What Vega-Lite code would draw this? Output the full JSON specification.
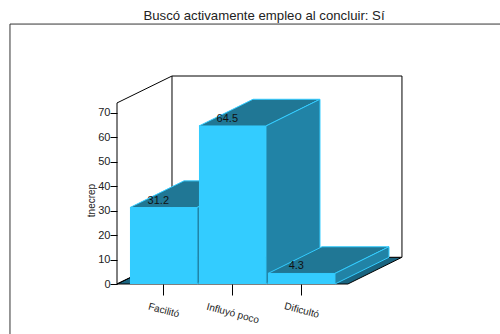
{"$schema":"https://vega.github.io/schema/vega-lite/v6.json","width":294,"height":208,"autosize":"none","padding":{"left":117,"top":76,"right":89,"bottom":50},"background":"white","view":{"stroke":null},"config":{"font":"Liberation Sans"},"title":{"text":"Buscó activamente empleo al concluir: Sí","anchor":"middle","frame":"group","offset":0,"fontSize":13.2,"fontWeight":"normal","font":"Liberation Sans","color":"#222222"},"datasets":{"bars":[{"category":"Facilitó","center":1,"x":0.517,"x2":1.488,"y":31.2},{"category":"Influyó poco","center":2,"x":1.517,"x2":2.488,"y":64.5},{"category":"Dificultó","center":3,"x":2.517,"x2":3.488,"y":4.3}],"room":[{"face":"floor","part":"floor","x":0.329,"y":0,"y2":0},{"face":"floor","part":"floor","x":1.126,"y":10.9,"y2":0},{"face":"floor","part":"floor","x":3.675,"y":10.9,"y2":0},{"face":"floor","part":"floor","x":4.459,"y":10.9,"y2":10.9},{"face":"wall","part":"wall","x":1.126,"y":84.9,"y2":10.9},{"face":"wall","part":"wall","x":4.459,"y":84.9,"y2":10.9}],"depth":[{"face":"t1","part":"top","x":0.517,"y":31.2,"y2":31.2},{"face":"t1","part":"top","x":1.3,"y":42.1,"y2":31.2},{"face":"t1","part":"top","x":1.488,"y":42.1,"y2":31.2},{"face":"t1","part":"top","x":2.271,"y":42.1,"y2":42.1},{"face":"s1","part":"side","x":1.488,"y":31.2,"y2":0},{"face":"s1","part":"side","x":2.271,"y":42.1,"y2":10.9},{"face":"t2","part":"top","x":1.517,"y":64.5,"y2":64.5},{"face":"t2","part":"top","x":2.3,"y":75.4,"y2":64.5},{"face":"t2","part":"top","x":2.488,"y":75.4,"y2":64.5},{"face":"t2","part":"top","x":3.271,"y":75.4,"y2":75.4},{"face":"s2","part":"side","x":2.488,"y":64.5,"y2":0},{"face":"s2","part":"side","x":3.271,"y":75.4,"y2":10.9},{"face":"t3","part":"top","x":2.517,"y":4.3,"y2":4.3},{"face":"t3","part":"top","x":3.3,"y":15.2,"y2":4.3},{"face":"t3","part":"top","x":3.488,"y":15.2,"y2":4.3},{"face":"t3","part":"top","x":4.271,"y":15.2,"y2":15.2},{"face":"s3","part":"side","x":3.488,"y":4.3,"y2":0},{"face":"s3","part":"side","x":4.271,"y":15.2,"y2":10.9}],"edges":[{"edge":"axis","x":0.329,"y":0},{"edge":"axis","x":0.329,"y":73.9},{"edge":"axis","x":1.126,"y":84.9},{"edge":"floor-left","x":0.329,"y":0},{"edge":"floor-left","x":1.126,"y":10.9}],"frame":[{"x":-1.222,"x2":6.1,"y":106.1,"y2":-26}]},"encoding":{"x":{"field":"x","type":"quantitative","scale":{"domain":[0.329,4.59],"nice":false,"zero":false},"axis":{"title":null,"values":[1,2,3],"domain":false,"grid":false,"tickSize":11,"tickColor":"#000000","labelExpr":"datum.value==1?'Facilitó':datum.value==2?'Influyó poco':'Dificultó'","labelAngle":15,"labelAlign":"center","labelBaseline":"middle","labelPadding":{"condition":{"test":"datum.value==2","value":18},"value":15},"labelFontSize":10,"labelColor":"#222222","labelFont":"Liberation Sans","labelOverlap":false,"labelBound":false,"labelFlush":false}},"y":{"field":"y","type":"quantitative","stack":null,"scale":{"domain":[0,84.9],"nice":false,"zero":false},"axis":{"title":"tnecrep","titleFontSize":10,"titleFontWeight":"normal","titleColor":"#222222","titleFont":"Liberation Sans","titleX":-21,"titleY":124,"values":[0,10,20,30,40,50,60,70],"domain":false,"grid":false,"tickSize":7,"tickColor":"#000000","labelPadding":0,"labelFontSize":11,"labelColor":"#222222","labelFont":"Liberation Sans"}}},"layer":[{"data":{"name":"frame"},"mark":{"type":"rect","fill":null,"fillOpacity":0,"stroke":"#333333","strokeWidth":1,"clip":false},"encoding":{"x2":{"field":"x2"},"y2":{"field":"y2"}}},{"data":{"name":"room"},"mark":{"type":"area","stroke":"#000000","strokeWidth":1,"clip":false},"encoding":{"y2":{"field":"y2"},"detail":{"field":"face"},"color":{"field":"part","type":"nominal","legend":null,"scale":{"domain":["floor","wall","top","side","front"],"range":["#1a6480","#ffffff","#207795","#2183a6","#33ccff"]}}}},{"data":{"name":"edges"},"mark":{"type":"line","stroke":"#000000","strokeWidth":1,"clip":false},"encoding":{"detail":{"field":"edge"}}},{"data":{"name":"depth"},"mark":{"type":"area","stroke":"#33ccff","strokeWidth":1,"clip":false},"encoding":{"y2":{"field":"y2"},"detail":{"field":"face"},"color":{"field":"part","type":"nominal","legend":null,"scale":{"domain":["floor","wall","top","side","front"],"range":["#1a6480","#ffffff","#207795","#2183a6","#33ccff"]}}}},{"data":{"name":"bars"},"mark":{"type":"rect","fill":"#33ccff","clip":false},"encoding":{"x2":{"field":"x2"},"y2":{"datum":0}}},{"data":{"name":"bars"},"mark":{"type":"text","dx":-5,"dy":-7,"fontSize":11,"color":"#111111","font":"Liberation Sans","align":"center","baseline":"middle"},"encoding":{"x":{"field":"center","type":"quantitative"},"text":{"field":"y","type":"quantitative","format":".1f"}}}]}
